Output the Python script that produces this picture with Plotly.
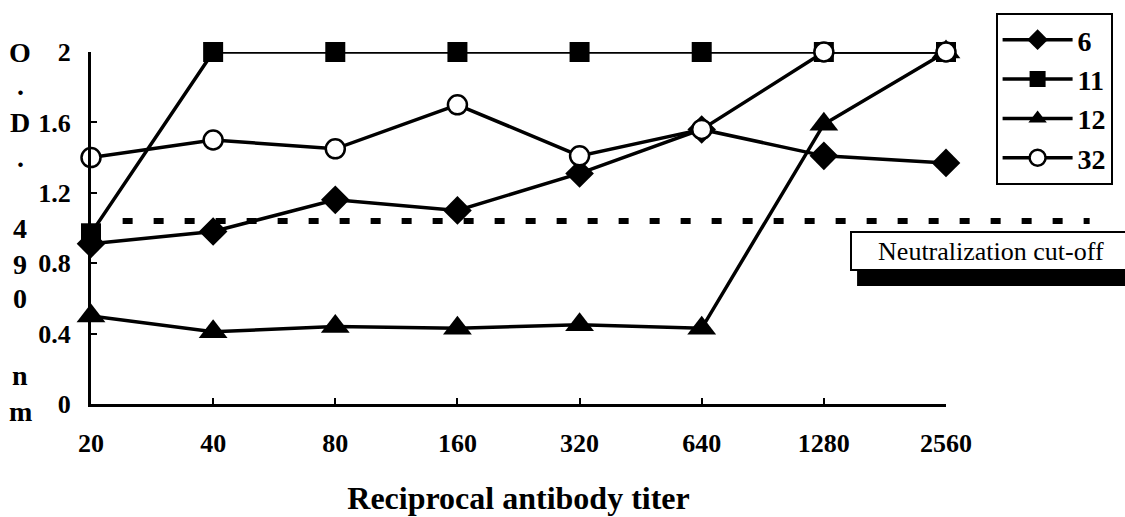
import plotly.graph_objects as go

titers = ["20", "40", "80", "160", "320", "640", "1280", "2560"]
s6 = [0.91, 0.98, 1.16, 1.10, 1.31, 1.56, 1.41, 1.37]
s11 = [0.97, 2.0, 2.0, 2.0, 2.0, 2.0, 2.0, 2.0]
s12 = [0.50, 0.41, 0.44, 0.43, 0.45, 0.43, 1.59, 2.0]
s32 = [1.40, 1.50, 1.45, 1.70, 1.41, 1.56, 2.0, 2.0]
cutoff = 1.04
ytick_vals = [0, 0.4, 0.8, 1.2, 1.6, 2]
ytick_text = ["0", "0.4", "0.8", "1.2", "1.6", "2"]

FONT = "Liberation Serif"

fig = go.Figure()
# draw order: 12 first (hidden under squares at the top), legend order kept by legendrank
series = [
    ("12", s12, dict(symbol="triangle-up", size=25, color="black"), 3),
    ("6", s6, dict(symbol="diamond", size=22, color="black"), 1),
    ("11", s11, dict(symbol="square", size=20, color="black"), 2),
    ("32", s32, dict(symbol="circle", size=19, color="white", line=dict(color="black", width=2.5)), 4),
]
for name, ys, mk, rank in series:
    fig.add_trace(go.Scatter(
        x=titers, y=ys, name=name, mode="lines+markers", legendrank=rank,
        line=dict(color="black", width=3.5), marker=mk, cliponaxis=False,
    ))

fig.update_layout(
    width=1125, height=517,
    margin=dict(l=91, r=179, t=52, b=113, autoexpand=False),
    paper_bgcolor="white", plot_bgcolor="white",
    font=dict(family=FONT, color="black", size=22),
    showlegend=True,
    legend=dict(
        x=1.058, y=1.111, xanchor="left", yanchor="top",
        bordercolor="black", borderwidth=2, bgcolor="white",
        font=dict(family=FONT, size=28, color="black", weight="bold"),
        itemwidth=70, tracegroupgap=0, traceorder="normal",
    ),
    xaxis=dict(
        type="category", range=[0, 7], showgrid=False, zeroline=False, automargin=False,
        showline=True, linecolor="black", linewidth=3,
        ticks="inside", ticklen=6, tickwidth=2, tickcolor="black",
        tickfont=dict(family=FONT, size=26, color="black", weight="bold"),
        ticklabelstandoff=14,
        title=dict(text="<b>Reciprocal antibody titer</b>", font=dict(family=FONT, size=32), standoff=30),
    ),
    yaxis=dict(
        range=[0, 2], showgrid=False, zeroline=False, automargin=False,
        showline=True, linecolor="black", linewidth=3,
        ticks="inside", ticklen=6, tickwidth=2, tickcolor="black",
        tickvals=ytick_vals, ticktext=ytick_text,
        tickfont=dict(family=FONT, size=26, color="black", weight="bold"),
        ticklabelstandoff=12,
    ),
)

# dashed cut-off line
fig.add_shape(type="line", xref="paper", yref="y", x0=0.037, x1=1.168, y0=cutoff, y1=cutoff,
              line=dict(color="black", width=6, dash="10px,21px"), layer="above")

# shadow under cut-off label
fig.add_shape(type="rect", xref="paper", yref="paper", x0=0.896, x1=1.215, y0=0.335, y1=0.383,
              fillcolor="black", line=dict(width=0), layer="above")
fig.add_annotation(text="Neutralization cut-off", xref="paper", yref="paper",
                   x=1.053, y=0.435, xanchor="center", yanchor="middle",
                   showarrow=False, width=276, height=34,
                   bgcolor="white", bordercolor="black", borderwidth=2,
                   font=dict(family=FONT, size=26, color="black"))

# vertical stacked y-axis title
letters = ["O", ".", "D", ".", "4", "9", "0", "n", "m"]
ypos = [1.0, 0.906, 0.801, 0.699, 0.5, 0.395, 0.301, 0.082, -0.02]
for ch, yp in zip(letters, ypos):
    fig.add_annotation(text="<b>%s</b>" % ch, xref="paper", yref="paper", x=-0.083, y=yp,
                       xanchor="center", yanchor="middle",
                       showarrow=False, font=dict(family=FONT, size=28, color="black"))

fig.write_html("out.html")
